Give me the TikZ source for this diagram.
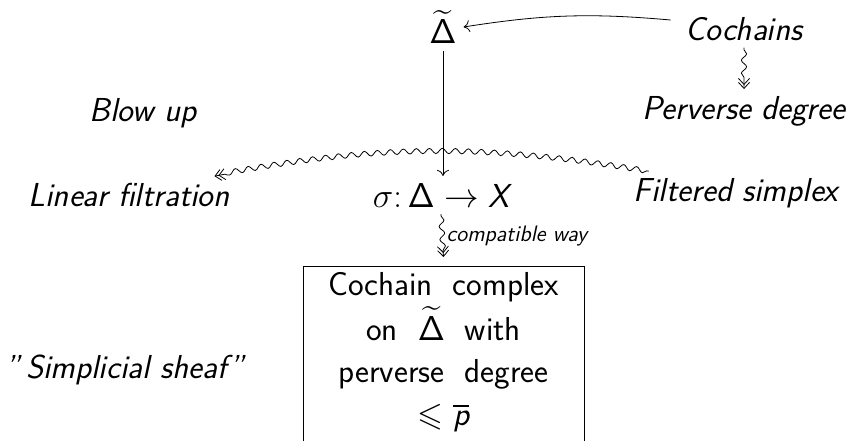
\documentclass[tikz,border=0pt]{standalone}
\usepackage{amssymb}
\usetikzlibrary{arrows.meta,decorations.pathmorphing}
\begin{document}
\begin{tikzpicture}[x=0.5pt,y=-0.5pt,
  font=\fontsize{16.6}{21}\selectfont\sffamily,
  lbl/.style={font=\fontsize{16.6}{21}\selectfont\sffamily\itshape},
  small/.style={font=\fontsize{11.2}{13}\selectfont\sffamily\itshape, inner sep=1pt},
  tip/.style={-{To[length=3pt,width=6pt]}},
  dtip/.style={-{Straight Barb[length=3pt,width=5.5pt,sep=-1.5pt]Straight Barb[length=3pt,width=5.5pt]}},
  squig/.style={decorate, decoration={snake, amplitude=1.3pt, segment length=6.5pt, pre length=1pt, post length=3pt}}]
\useasboundingbox (0,0) rectangle (849,440);
\node (dt) at (443,27) {$\widetilde{\mathsf{\Delta}}$};
\node[lbl] (coch) at (744,29) {Cochains};
\node[lbl] (perv) at (744,111) {Perverse degree};
\node[lbl] (blow) at (143,113) {Blow up};
\node[lbl] (lin) at (129,195) {Linear filtration};
\node (sig) at (441,195) {$\sigma\colon \mathsf{\Delta}\to \textit{X}$};
\node[lbl] (fil) at (736,193) {Filtered simplex};
\node[lbl] (sim) at (125,370) {"\,Simplicial sheaf"};
\node[draw, minimum width=140.5pt, minimum height=100pt, anchor=north] (box) at (443.5,266) {};
\node[align=center, inner sep=0pt, font=\fontsize{16.6}{20}\selectfont\sffamily] (boxtxt) at (443.5,352) {Cochain\hspace{0.6em}complex\\[1.3pt]
  on\hspace{0.6em}$\widetilde{\mathsf{\Delta}}$\hspace{0.6em}with\\[1.3pt]
  perverse\hspace{0.6em}degree\\[1.3pt]
  $\leqslant \overline{\textit{p}}$};
% arrows
\draw[tip] ([shift={(-8,-9)}]coch.west) to[bend right=7] (dt.east);
\draw[tip] (dt.south) -- (dt.south |- sig.north);
\draw[squig, {Bar[width=6pt]}-, dtip] (coch.south) -- (perv.north);
\draw[squig, dtip] ([xshift=11pt]fil.north west) to[bend right=10] ([xshift=-11pt]lin.north east);
\draw[squig, {Bar[width=6pt]}-, dtip] (sig.south) -- node[small, right=1pt] {compatible way} ([yshift=4.5pt]box.north);
\end{tikzpicture}
\end{document}
